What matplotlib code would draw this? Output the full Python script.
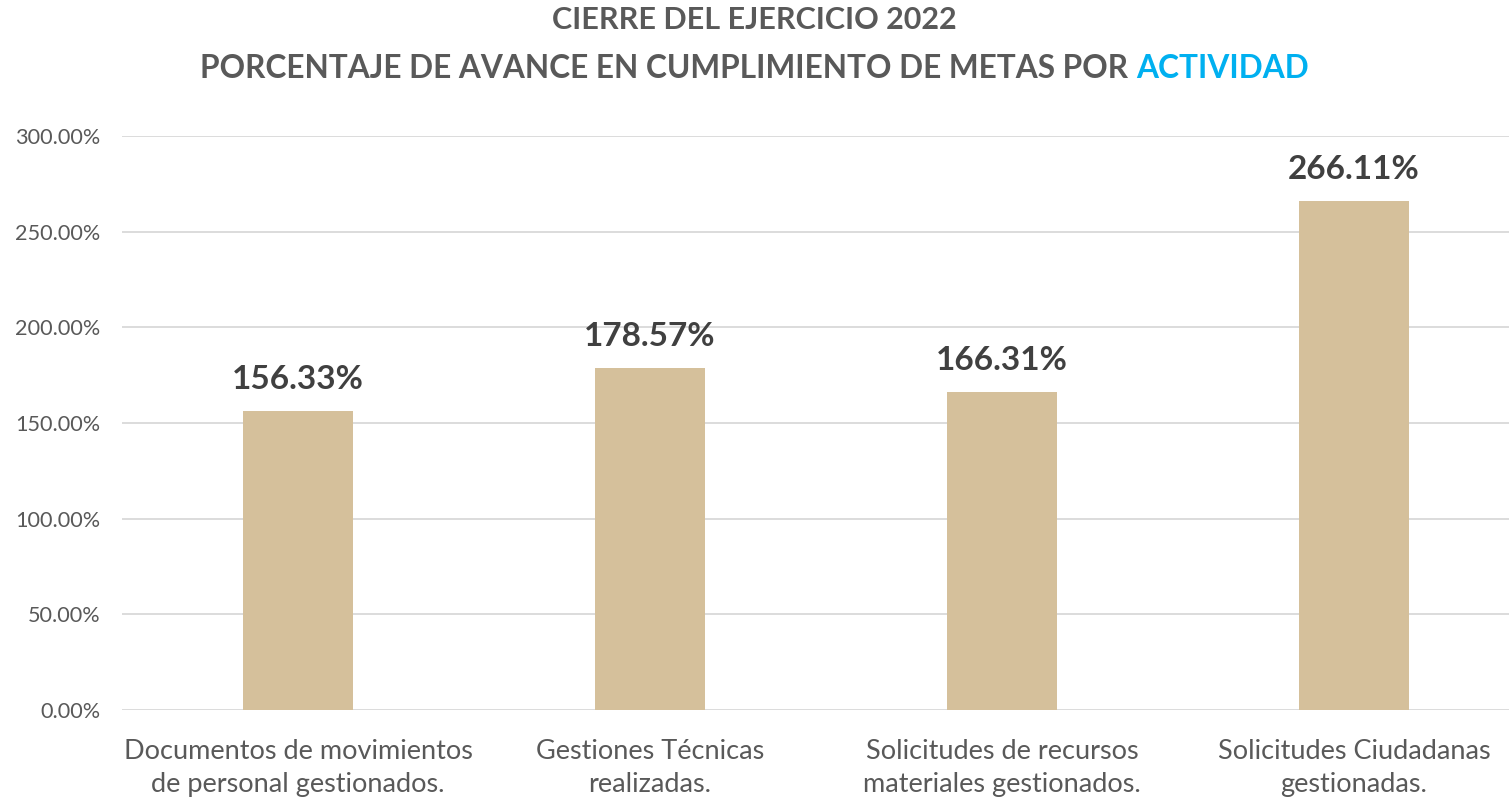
import matplotlib.pyplot as plt
from matplotlib.ticker import FuncFormatter

# Datos del cierre 2022
categorias = [
    "Documentos de movimientos\nde personal gestionados.",
    "Gestiones Técnicas\nrealizadas.",
    "Solicitudes de recursos\nmateriales gestionados.",
    "Solicitudes Ciudadanas\ngestionadas.",
]
avance = [156.33, 178.57, 166.31, 266.11]
y_ticks = [0, 50, 100, 150, 200, 250, 300]

plt.rcParams['font.family'] = ['Lato', 'DejaVu Sans']

fig = plt.figure(figsize=(15.09, 7.97), dpi=100)
ax = fig.add_axes([122 / 1509, 87 / 797, 1408 / 1509, 574 / 797])

x = range(len(categorias))
bars = ax.bar(x, avance, width=0.315, color='#D5C09B', zorder=3)

for rect, v in zip(bars, avance):
    ax.annotate(f"{v:.2f}%", (rect.get_x() + rect.get_width() / 2, v),
                xytext=(0, 16), textcoords='offset points',
                ha='center', va='baseline', fontsize=24, fontweight='bold',
                color='#404040')

ax.set_xlim(-0.5, len(categorias) - 0.5)
ax.set_ylim(0, 300)
ax.set_yticks(y_ticks)
ax.yaxis.set_major_formatter(FuncFormatter(lambda v, p: f"{v:.2f}%"))
ax.set_xticks(list(x))
ax.set_xticklabels(categorias, fontsize=19.5, color='#595959', linespacing=1.4)
ax.tick_params(axis='y', labelsize=15.6, labelcolor='#595959', length=0, pad=15.5)
ax.tick_params(axis='x', length=0, pad=21)
ax.grid(axis='y', color='#D9D9D9', linewidth=1.3, zorder=0)
for s in ax.spines.values():
    s.set_visible(False)

# Título en dos líneas, con "ACTIVIDAD" resaltado
fig.text(0.5, 1 - 20 / 797, "CIERRE DEL EJERCICIO 2022", ha='center', va='center',
         fontsize=22, fontweight='bold', color='#595959')
parte1 = fig.text(0, 1 - 68 / 797, "PORCENTAJE DE AVANCE EN CUMPLIMIENTO DE METAS POR ",
                  ha='left', va='center', fontsize=22.8, fontweight='bold', color='#595959')
parte2 = fig.text(0, 1 - 68 / 797, "ACTIVIDAD", ha='left', va='center',
                  fontsize=22.8, fontweight='bold', color='#00B0F0')
fig.canvas.draw()
r = fig.canvas.get_renderer()
w1 = parte1.get_window_extent(r).width
w2 = parte2.get_window_extent(r).width
x0 = (fig.bbox.width - w1 - w2) / 2
parte1.set_x(x0 / fig.bbox.width)
parte2.set_x((x0 + w1) / fig.bbox.width)

fig.savefig("out.png", dpi=100)
